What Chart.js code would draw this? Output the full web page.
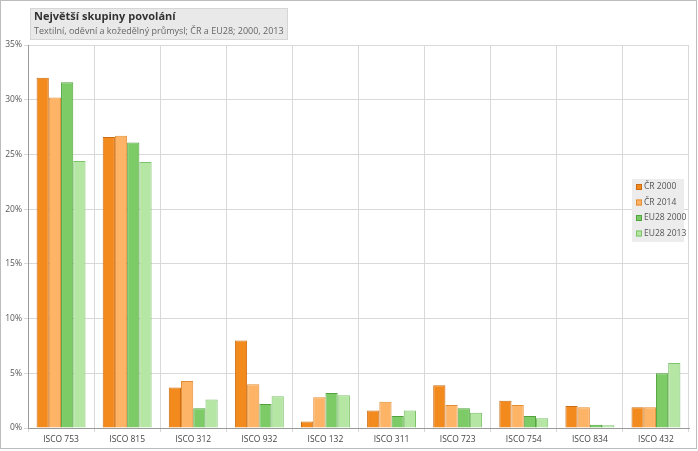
<!DOCTYPE html>
<html>
<head>
<meta charset="utf-8">
<script src="https://cdn.jsdelivr.net/npm/chart.js@4/dist/chart.umd.min.js"></script>
<style>
  html, body { margin: 0; padding: 0; background: #fff; }
  #wrap { width: 698px; height: 451px; position: relative; }
</style>
</head>
<body>
<div id="wrap"><canvas id="chart"></canvas></div>
<script>
/* ---------- data ---------- */
const categories = ["ISCO 753", "ISCO 815", "ISCO 312", "ISCO 932", "ISCO 132",
                    "ISCO 311", "ISCO 723", "ISCO 754", "ISCO 834", "ISCO 432"];

const cr2000   = [32.0, 26.6, 3.7, 8.0, 0.6, 1.6, 3.9, 2.5, 2.0, 1.9];
const cr2014   = [30.2, 26.7, 4.3, 4.0, 2.8, 2.4, 2.1, 2.1, 1.9, 1.9];
const eu2000   = [31.6, 26.1, 1.8, 2.2, 3.2, 1.1, 1.8, 1.1, 0.3, 5.0];
const eu2013   = [24.4, 24.3, 2.6, 2.9, 3.0, 1.6, 1.4, 0.9, 0.25, 5.95];

const seriesNames = ["ČR 2000", "ČR 2014", "EU28 2000", "EU28 2013"];
const yTicks = [0, 5, 10, 15, 20, 25, 30, 35];

const titleText = "Největší skupiny povolání";
const subtitleText = "Textilní, oděvní a kožedělný průmysl; ČR a EU28; 2000, 2013";

/* ---------- styles ---------- */
const fills   = ["#F28A1E", "#FDB466", "#7CCB66", "#B6E6A4"];
const borders = ["#CC6C12", "#E38D32", "#4FA23C", "#7CC268"];
const FONT = "'Open Sans', 'DejaVu Sans', sans-serif";

/* frame + title box drawn behind the chart */
const framePlugin = {
  id: "frame",
  beforeDraw(chart) {
    const ctx = chart.ctx;
    ctx.save();
    ctx.fillStyle = "#fff";
    ctx.fillRect(0, 0, chart.width, chart.height);
    ctx.strokeStyle = "#bdbdbd";
    ctx.lineWidth = 1;
    ctx.strokeRect(0.5, 0.5, 696, 448);
    // title box
    ctx.fillStyle = "#e9e9e9";
    ctx.fillRect(30, 8, 257, 31);
    ctx.strokeStyle = "#d6d6d6";
    ctx.strokeRect(30.5, 8.5, 257, 31);
    ctx.fillStyle = "#333";
    ctx.font = "bold 11px " + FONT;
    ctx.textBaseline = "middle";
    ctx.fillText(titleText, 34, 17);
    ctx.fillStyle = "#666";
    ctx.font = "9px " + FONT;
    ctx.fillText(subtitleText, 34, 31);
    ctx.restore();
  },
  afterDraw(chart) {
    // floating legend
    const ctx = chart.ctx;
    const x = 632, y = 179, w = 52, h = 63;
    ctx.save();
    ctx.fillStyle = "#ececec";
    ctx.fillRect(x, y, w, h);
    ctx.font = "8.5px " + FONT;
    ctx.textBaseline = "middle";
    chart.data.datasets.forEach((ds, i) => {
      const cy = y + 8 + i * 15.5;
      ctx.fillStyle = ds.backgroundColor;
      ctx.fillRect(x + 4, cy - 3, 6, 6);
      ctx.strokeStyle = ds.borderColor;
      ctx.strokeRect(x + 4.5, cy - 2.5, 5, 5);
      ctx.fillStyle = "#555";
      ctx.fillText(ds.label, x + 12, cy);
    });
    ctx.restore();
  }
};

const series = [cr2000, cr2014, eu2000, eu2013];

new Chart(document.getElementById("chart"), {
  type: "bar",
  data: {
    labels: categories,
    datasets: series.map((vals, i) => ({
      label: seriesNames[i],
      data: vals,
      backgroundColor: fills[i],
      borderColor: borders[i],
      borderWidth: 1,
      categoryPercentage: 0.74,
      barPercentage: 1.0
    }))
  },
  options: {
    responsive: true,
    maintainAspectRatio: false,
    animation: false,
    layout: { padding: { left: 0, right: 9, top: 45, bottom: 0 } },
    plugins: {
      legend: { display: false },
      tooltip: { enabled: false }
    },
    scales: {
      x: {
        offset: true,
        grid: { offset: true, color: "#d9d9d9", drawTicks: true, tickLength: 4 },
        border: { color: "#9a9a9a" },
        ticks: { color: "#444", font: { family: FONT, size: 8.5 }, padding: 2, maxRotation: 0 },
        afterFit(scale) { scale.height = 23; }
      },
      y: {
        min: 0,
        max: 35,
        afterBuildTicks(scale) { scale.ticks = yTicks.map(v => ({ value: v })); },
        grid: { color: "#d9d9d9", tickLength: 4 },
        border: { color: "#9a9a9a" },
        ticks: {
          color: "#555",
          font: { family: FONT, size: 8.5 },
          padding: 2,
          callback: v => v + "%"
        },
        afterFit(scale) { scale.width = 28; }
      }
    }
  },
  plugins: [framePlugin]
});
</script>
</body>
</html>
